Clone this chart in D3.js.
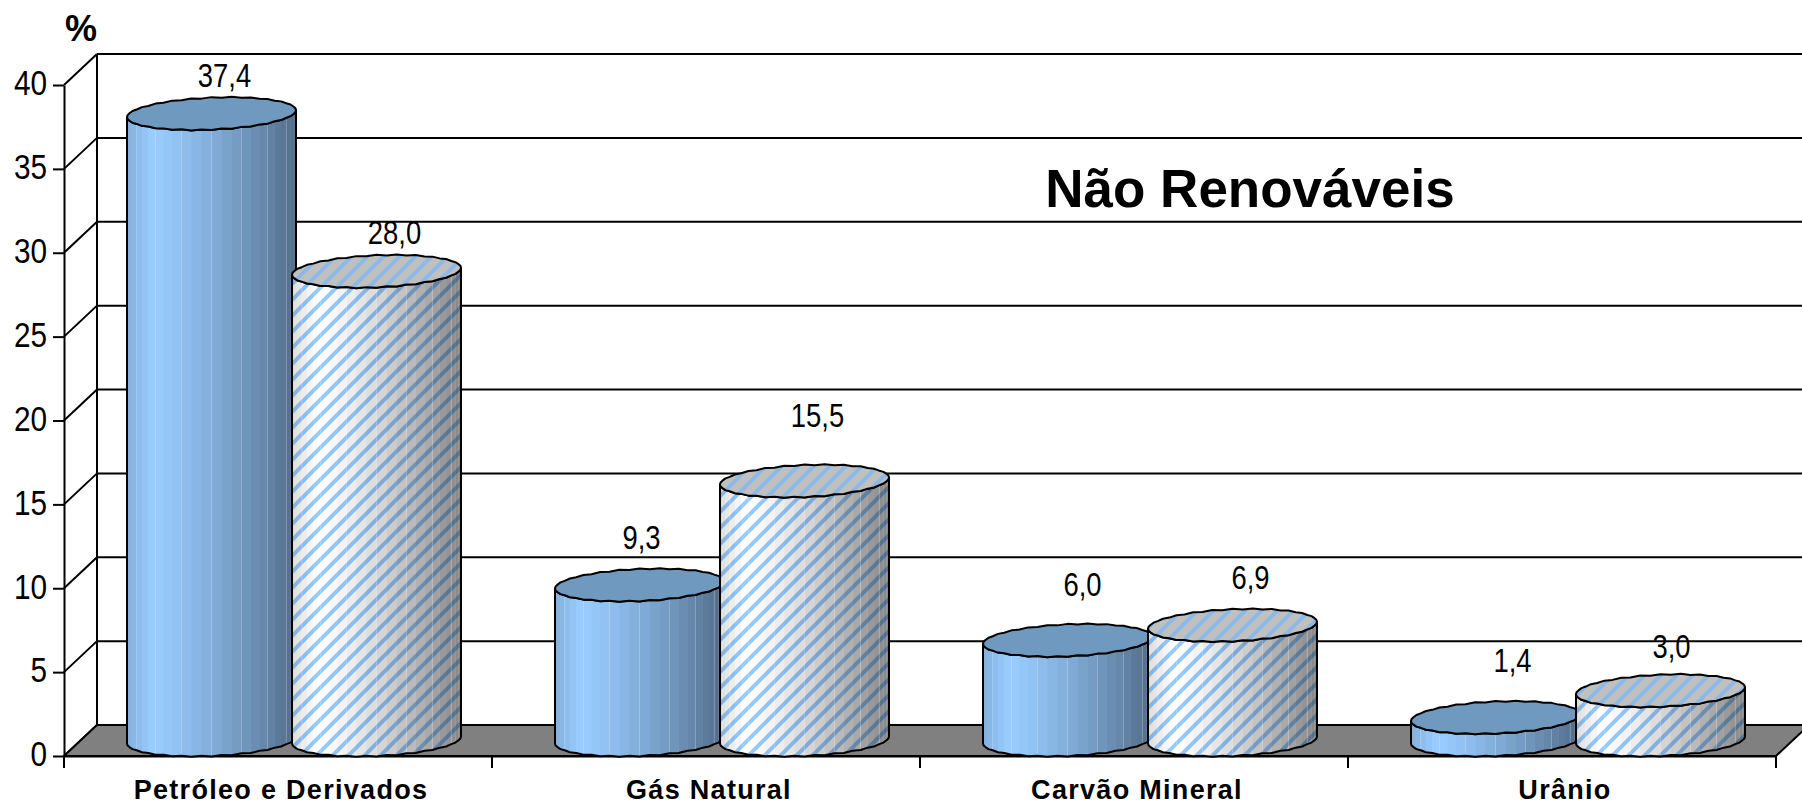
<!DOCTYPE html>
<html><head><meta charset="utf-8">
<style>html,body{margin:0;padding:0;background:#fff;overflow:hidden}svg{display:block}</style>
<script src="https://cdn.jsdelivr.net/npm/d3@7"></script></head><body>
<script>
const categories = ["Petróleo e Derivados","Gás Natural","Carvão Mineral","Urânio"];
const serieA = [37.4,9.3,6.0,1.4];
const serieB = [28.0,15.5,6.9,3.0];
const yTicks = [0,5,10,15,20,25,30,35,40];
const labelLiftA = [39,48,56,57], labelLiftB = [39,66,48,45];
const labelNudgeA = [13,2,15,17], labelNudgeB = [18,13,18,11];

const W=1802,H=805,depthX=33,depthY=31,rx=84.5,ry=16,skew=3.5,N=26,topDrop=1;
const svg=d3.select("body").append("svg").attr("width",W).attr("height",H);
const x=d3.scaleBand().domain(categories).range([64,1776]);
const y=d3.scaleLinear().domain([0,40]).range([756,85]);
const defs=svg.append("defs");
function hatch(id,bg,fg,sw){
  const s=16;
  const p=defs.append("pattern").attr("id",id).attr("patternUnits","userSpaceOnUse").attr("width",s).attr("height",s);
  p.append("rect").attr("width",s).attr("height",s).attr("fill",bg);
  p.append("path").attr("d",`M-4,4L4,-4M-4,${s+4}L${s+4},-4M${s-4},${s+4}L${s+4},${s-4}`).attr("stroke",fg).attr("stroke-width",sw).attr("fill","none");
}
hatch("hBody","#ffffff","#99ccff",4);
hatch("hTop","#c0c0c0","#8cb9e6",4);

const grid=svg.append("g").attr("stroke","#000").attr("stroke-width",2).attr("fill","none");
yTicks.forEach(t=>{
  grid.append("line").attr("x1",64).attr("y1",y(t)).attr("x2",64+depthX).attr("y2",y(t)-depthY);
  grid.append("line").attr("x1",64+depthX).attr("y1",y(t)-depthY).attr("x2",W+40).attr("y2",y(t)-depthY);
});
grid.append("line").attr("x1",64+depthX).attr("y1",y(40)-depthY).attr("x2",64+depthX).attr("y2",y(0)-depthY);
svg.append("path").attr("d",d3.line()([[64,y(0)],[64+depthX,y(0)-depthY],[W+40,y(0)-depthY],[W+40,y(0)-depthY+3],[1776+depthX,y(0)-depthY],[1776,y(0)]])+"Z")
  .attr("fill","#808080").attr("stroke","#000").attr("stroke-width",2);

const tickSx=.85;
const ay=svg.append("g").attr("transform","translate(64,0)").call(d3.axisLeft(y).tickValues(yTicks).tickSize(11).tickSizeOuter(0).tickPadding(6));
ay.selectAll("line,path").attr("stroke","#000").attr("stroke-width",2);
ay.selectAll("text").attr("font-family","'Liberation Sans'").attr("font-size",35).attr("fill","#000").attr("dy","0.28em")
  .attr("x",-17/tickSx).attr("transform",`scale(${tickSx},1)`);
const ax=svg.append("g").attr("transform",`translate(0,${y(0)})`).call(d3.axisBottom(x).tickValues([]).tickSizeOuter(0));
ax.select("path").attr("stroke","#000").attr("stroke-width",2);
const tickPos=[0,1,2,3,4].map(i=>x.range()[0]+i*x.step());
svg.selectAll(".xt").data(tickPos).enter().append("line").attr("x1",d=>d).attr("x2",d=>d).attr("y1",y(0)).attr("y2",y(0)+12).attr("stroke","#000").attr("stroke-width",2);
svg.selectAll(".cat").data(categories).enter().append("text")
  .attr("x",d=>x(d)+x.bandwidth()/2+3).attr("y",799).attr("text-anchor","middle")
  .attr("font-family","'Liberation Sans'").attr("font-weight","bold").attr("font-size",27).attr("letter-spacing",1.3).attr("fill","#000").text(d=>d);

function shade(t){return t<.15?.86+.14*t/.15:1-.47*Math.pow((t-.15)/.85,1.3);}
function pt(cx,cy,a,i){
  const w=1+(i%2?0.03:-0.03);
  return [cx+rx*Math.cos(a), cy+ry*w*Math.sin(a)-skew*Math.cos(a)];
}
function cylinder(g,cx,v,kind){
  const base=y(0)-ry, top=base-(y(0)-y(v))+topDrop;
  const A=d3.range(N+1).map(i=>i/N*Math.PI);
  const topF=A.map((a,i)=>pt(cx,top,a,i)), botF=A.map((a,i)=>pt(cx,base,a,i));
  const line=d3.line();
  const bodyPts=[...botF,...topF.slice().reverse()];
  g.append("path").attr("d",line(bodyPts)+"Z").attr("fill",kind==="A"?"#99ccff":"url(#hBody)");
  for(let i=0;i<N;i++){
    const s=shade(((topF[i][0]+topF[i+1][0])/2-(cx-rx))/(2*rx));
    g.append("path").attr("d",line([topF[i],topF[i+1],botF[i+1],botF[i]])+"Z").attr("fill","#000").attr("fill-opacity",1-s);
    if(i%3===1) g.append("path").attr("d",line([topF[i],botF[i]])).attr("stroke","#fff").attr("stroke-opacity",.22).attr("stroke-width",1).attr("fill","none");
  }
  g.append("path").attr("d",line(bodyPts)+"Z").attr("fill","none").attr("stroke","#000").attr("stroke-width",2).attr("stroke-linejoin","round");
  const ring=d3.range(N*2).map(i=>pt(cx,top,i/N*Math.PI,i));
  g.append("path").attr("d",line(ring)+"Z").attr("fill",kind==="A"?"#7099bf":"url(#hTop)").attr("stroke","#000").attr("stroke-width",2).attr("stroke-linejoin","round");
}
const marks=svg.append("g");
categories.forEach((c,i)=>{
  const start=x(c)+63;
  cylinder(marks.append("g"),start+rx,serieA[i],"A");
  cylinder(marks.append("g"),start+rx+165,serieB[i],"B");
});
const fmt=v=>v.toFixed(1).replace(".",",");
const topY=v=>y(v)-ry+topDrop;
function lab(xx,yy,t){svg.append("text").attr("text-anchor","middle").attr("dy","0.36em")
  .attr("transform",`translate(${xx},${yy}) scale(.83,1)`)
  .attr("font-family","'Liberation Sans'").attr("font-size",33).attr("fill","#000").text(t);}
categories.forEach((c,i)=>{
  const start=x(c)+63;
  lab(start+rx+labelNudgeA[i],topY(serieA[i])-labelLiftA[i],fmt(serieA[i]));
  lab(start+rx+165+labelNudgeB[i],topY(serieB[i])-labelLiftB[i],fmt(serieB[i]));
});
svg.append("text").attr("x",81).attr("y",41).attr("text-anchor","middle").attr("font-family","'Liberation Sans'").attr("font-weight","bold").attr("font-size",36).text("%");
svg.append("text").attr("x",1250).attr("y",207).attr("text-anchor","middle").attr("font-family","'Liberation Sans'").attr("font-weight","bold").attr("font-size",53).attr("fill","#000").text("Não Renováveis");
</script></body></html>
